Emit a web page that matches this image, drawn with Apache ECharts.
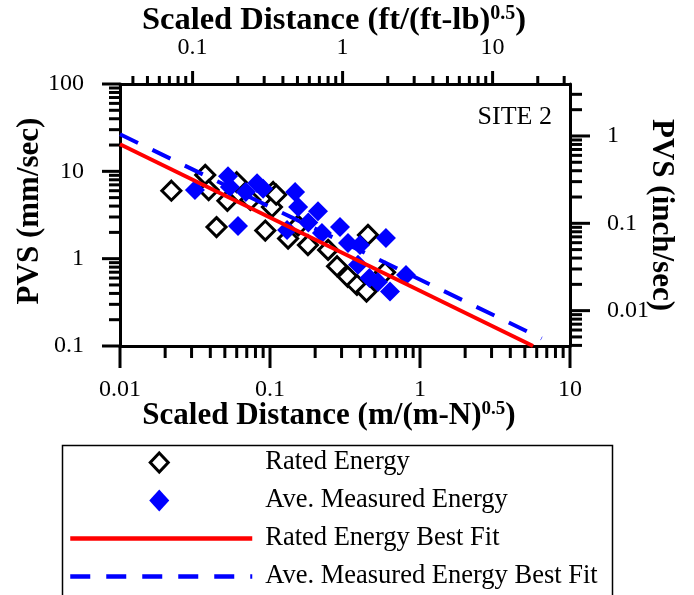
<!DOCTYPE html>
<html><head><meta charset="utf-8">
<script src="https://cdn.jsdelivr.net/npm/echarts@6/dist/echarts.min.js"></script>
<style>html,body{margin:0;padding:0;background:#fff}#c{width:694px;height:595px}</style>
</head><body><div id="c"></div>
<script>
const FONT = '"Liberation Serif","Times New Roman",serif';
const X_MIN = 0.01, X_MAX = 10;
const Y_MIN = 0.1, Y_MAX = 100;
const FT_PER_M = 3.2808;
const MM_PER_IN = 25.4;

const xMajorTicks = [0.01, 0.1, 1, 10];
const xMinorTicks = [0.02,0.03,0.04,0.05,0.06,0.07,0.08,0.09,0.2,0.3,0.4,0.5,0.6,0.7,0.8,0.9,2,3,4,5,6,7,8,9];
const topMajorTicks = [0.1, 1, 10];
const topMinorTicks = [0.04,0.05,0.06,0.07,0.08,0.09,0.2,0.3,0.4,0.5,0.6,0.7,0.8,0.9,2,3,4,5,6,7,8,9,20,30];
const yMajorTicks = [0.1, 1, 10, 100];
const yMinorTicks = [0.2,0.3,0.4,0.5,0.6,0.7,0.8,0.9,2,3,4,5,6,7,8,9,20,30,40,50,60,70,80,90];
const rightMajorTicks = [0.01, 0.1, 1];
const rightMinorTicks = [0.004,0.005,0.006,0.007,0.008,0.009,0.02,0.03,0.04,0.05,0.06,0.07,0.08,0.09,0.2,0.3,0.4,0.5,0.6,0.7,0.8,0.9,2,3];

const ratedEnergy = [
  [0.022, 6.0], [0.037, 9.1], [0.039, 6.1], [0.044, 2.3], [0.052, 4.6], [0.060, 7.5],
  [0.074, 4.7], [0.093, 2.1], [0.105, 5.8], [0.103, 3.9], [0.11, 5.4], [0.132, 1.7],
  [0.154, 2.4], [0.179, 1.43], [0.244, 1.26], [0.28, 0.82], [0.33, 0.62], [0.38, 0.50],
  [0.44, 0.42], [0.45, 1.87], [0.585, 0.70]
];
const aveMeasuredEnergy = [
  [0.0316, 6.1], [0.0525, 8.8], [0.054, 6.6], [0.0612, 2.37], [0.069, 5.8], [0.082, 7.3],
  [0.09, 6.3], [0.147, 5.8], [0.154, 3.9], [0.13, 2.13], [0.18, 2.6], [0.209, 3.5],
  [0.222, 1.97], [0.293, 2.3], [0.331, 1.51], [0.398, 1.43], [0.593, 1.72], [0.386, 0.85],
  [0.46, 0.6], [0.525, 0.54], [0.631, 0.42], [0.807, 0.65]
];
const ratedFit = [[0.01, 20.4], [5.67, 0.1]];
const aveFit = [[0.01, 26.6], [6.47, 0.122]];

const isPow10 = v => Math.abs(Math.log10(v) - Math.round(Math.log10(v))) < 1e-6;
const fmt = v => isPow10(v) ? String(+v.toPrecision(6)) : '';

function tickSeries(data, xi, yi, dx, dy, len) {
  return {
    type: 'custom', xAxisIndex: xi, yAxisIndex: yi, silent: true, clip: false, z: 1,
    data: data,
    renderItem: function (p, api) {
      const c = api.coord([api.value(0), api.value(1)]);
      return { type: 'line', shape: { x1: c[0], y1: c[1], x2: c[0] + dx * len, y2: c[1] + dy * len },
        style: { stroke: '#000', lineWidth: 3 } };
    }
  };
}

// legend diamond icons: invisible move-to corners keep the icon box at full item size so the diamond is not stretched
const ICON_OPEN = 'path://M0,0M182,22M89,1.5L98,11L89,20.5L80,11Z';
const ICON_FILLED = 'path://M0,0M182,22M89,0L99,11L89,22L79,11Z';

const labelStyle = { fontFamily: FONT, fontSize: 24, color: '#000' };
const yLabelStyle = { fontFamily: FONT, fontSize: 24, color: '#000', padding: [6, 0, 0, 0] };
const supStyle = { fontFamily: FONT, fontSize: 19, fontWeight: 'bold', color: '#000', verticalAlign: 'top' };
const nameStyleBottom = {
  fontFamily: FONT, fontSize: 31, fontWeight: 'bold', color: '#000', padding: [0, 32, 0, 0],
  rich: { sup: supStyle }
};
const nameStyleTop = {
  fontFamily: FONT, fontSize: 32.5, fontWeight: 'bold', color: '#000', padding: [0, 22, 0, 0],
  rich: { sup: { fontFamily: FONT, fontSize: 20, fontWeight: 'bold', color: '#000', verticalAlign: 'top' } }
};
const vNameStyleLeft = { fontFamily: FONT, fontSize: 31, fontWeight: 'bold', color: '#000', padding: [0, 0, 0, 8] };
const vNameStyleRight = { fontFamily: FONT, fontSize: 31, fontWeight: 'bold', color: '#000' };
const axisLine = { show: true, lineStyle: { color: '#000', width: 3 } };

const chart = echarts.init(document.getElementById('c'), null, { renderer: 'canvas' });
chart.setOption({
  animation: false,
  backgroundColor: '#fff',
  grid: { left: 120, top: 84, right: 124, bottom: 249, outerBoundsMode: 'none', containLabel: false },
  xAxis: [
    { type: 'log', position: 'bottom', min: X_MIN, max: X_MAX, logBase: 10,
      axisLine: axisLine, axisTick: { show: false }, splitLine: { show: false }, minorTick: { show: false },
      axisLabel: Object.assign({ margin: 32, formatter: fmt, hideOverlap: false }, labelStyle),
      name: 'Scaled Distance (m/(m-N){sup|0.5})', nameLocation: 'middle', nameGap: 54, nameMoveOverlap: false,
      nameTextStyle: nameStyleBottom },
    { type: 'log', position: 'top', min: X_MIN * FT_PER_M, max: X_MAX * FT_PER_M, logBase: 10,
      axisLine: axisLine, axisTick: { show: false }, splitLine: { show: false }, minorTick: { show: false },
      axisLabel: Object.assign({ margin: 24, formatter: fmt, hideOverlap: false }, labelStyle),
      name: 'Scaled Distance (ft/(ft-lb){sup|0.5})', nameLocation: 'middle', nameGap: 47, nameMoveOverlap: false,
      nameTextStyle: nameStyleTop }
  ],
  yAxis: [
    { type: 'log', position: 'left', min: Y_MIN, max: Y_MAX, logBase: 10,
      axisLine: axisLine, axisTick: { show: false }, splitLine: { show: false }, minorTick: { show: false },
      axisLabel: Object.assign({ margin: 36, formatter: fmt, hideOverlap: false }, yLabelStyle),
      name: 'PVS (mm/sec)', nameLocation: 'middle', nameGap: 75, nameMoveOverlap: false,
      nameTextStyle: vNameStyleLeft },
    { type: 'log', position: 'right', min: Y_MIN / MM_PER_IN, max: Y_MAX / MM_PER_IN, logBase: 10,
      axisLine: axisLine, axisTick: { show: false }, splitLine: { show: false }, minorTick: { show: false },
      axisLabel: Object.assign({ margin: 37, formatter: fmt, hideOverlap: false }, yLabelStyle),
      name: 'PVS (inch/sec)', nameLocation: 'middle', nameGap: 76, nameRotate: -90, nameMoveOverlap: false,
      nameTextStyle: vNameStyleRight }
  ],
  legend: {
    orient: 'vertical', left: 68, top: 449, padding: 0, itemGap: 11,
    itemWidth: 182, itemHeight: 22,
    textStyle: { fontFamily: FONT, fontSize: 26.5, color: '#000', padding: [0, 0, 0, 8] },
    data: [
      { name: 'Rated Energy', icon: ICON_OPEN, itemStyle: { color: '#fff', borderColor: '#000', borderWidth: 3 } },
      { name: 'Ave. Measured Energy', icon: ICON_FILLED },
      { name: 'Rated Energy Best Fit', itemStyle: { opacity: 0 }, lineStyle: { width: 4.5 } },
      { name: 'Ave. Measured Energy Best Fit', itemStyle: { opacity: 0 }, lineStyle: { width: 4.5 } }
    ],
    selectedMode: false
  },
  graphic: [
    { type: 'rect', left: 60, top: 443, shape: { width: 550, height: 170 }, z: -1,
      style: { fill: 'none', stroke: '#000', lineWidth: 1.5 } },
    { type: 'text', right: 142, top: 104, style: { text: 'SITE 2', font: '26px ' + FONT, fill: '#000' } }
  ],
  series: [
    tickSeries(xMajorTicks.map(v => [v, Y_MIN]), 0, 0, 0, 1, 22),
    tickSeries(xMinorTicks.map(v => [v, Y_MIN]), 0, 0, 0, 1, 12),
    tickSeries(topMajorTicks.map(v => [v, Y_MAX]), 1, 0, 0, -1, 13),
    tickSeries(topMinorTicks.map(v => [v, Y_MAX]), 1, 0, 0, -1, 8),
    tickSeries(yMajorTicks.map(v => [X_MIN, v]), 0, 0, -1, 0, 18),
    tickSeries(yMinorTicks.map(v => [X_MIN, v]), 0, 0, -1, 0, 11),
    tickSeries(rightMajorTicks.map(v => [X_MAX, v]), 0, 1, 1, 0, 20),
    tickSeries(rightMinorTicks.map(v => [X_MAX, v]), 0, 1, 1, 0, 12),
    { name: 'Rated Energy', type: 'scatter', data: ratedEnergy, symbol: 'diamond', symbolSize: 19, z: 3,
      itemStyle: { color: '#fff', borderColor: '#000', borderWidth: 3, opacity: 1 } },
    { name: 'Ave. Measured Energy', type: 'scatter', data: aveMeasuredEnergy, symbol: 'diamond', symbolSize: 20, z: 4,
      itemStyle: { color: '#0000ff', opacity: 1 } },
    { name: 'Ave. Measured Energy Best Fit', type: 'line', data: aveFit, symbol: 'none', showSymbol: false, z: 5,
      lineStyle: { color: '#0000ff', width: 4, type: [20, 16] }, itemStyle: { color: '#0000ff' } },
    { name: 'Rated Energy Best Fit', type: 'line', data: ratedFit, symbol: 'none', showSymbol: false, z: 6,
      lineStyle: { color: '#ff0000', width: 4 }, itemStyle: { color: '#ff0000' } }
  ]
});
</script></body></html>
